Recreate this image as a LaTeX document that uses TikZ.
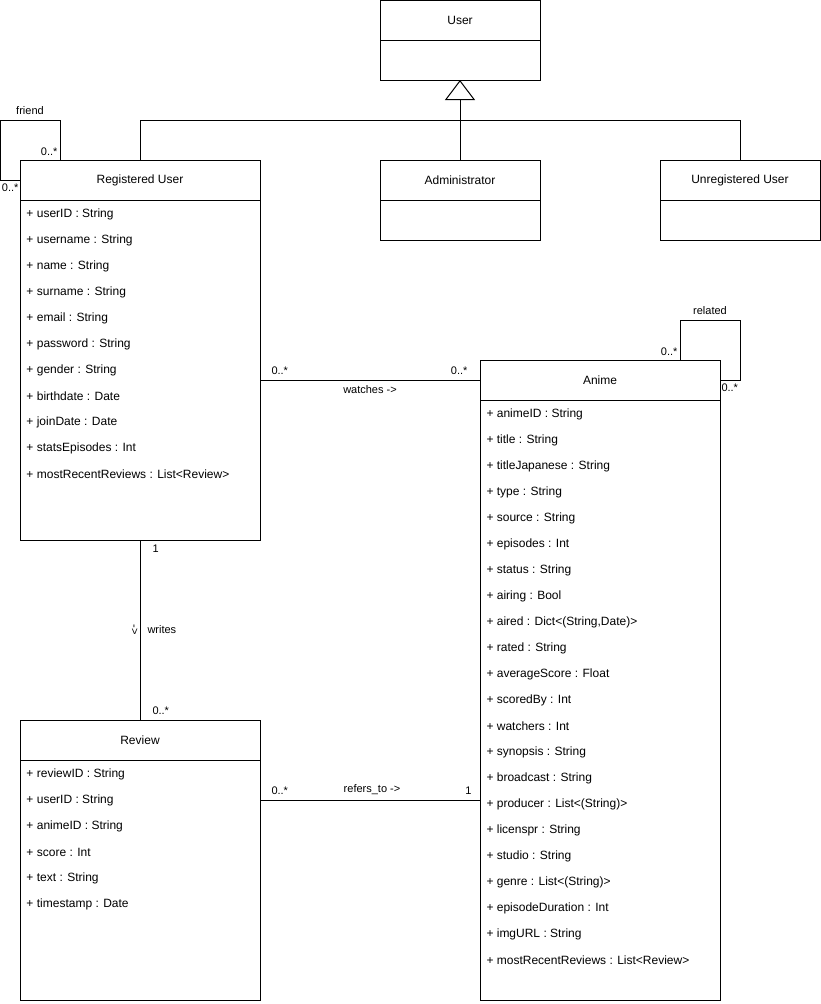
\documentclass[tikz,border=0pt]{standalone}
\usepackage{fontspec}
\setmainfont{Liberation Sans}
\usetikzlibrary{positioning,calc,arrows.meta}

\begin{document}
\begin{tikzpicture}
  [x=1pt,y=-1pt,line width=1pt,
   classhead/.style={draw,minimum width=#1,minimum height=40pt,inner sep=0pt,outer sep=0pt,font=\fontsize{12}{14}\selectfont},
   classhead/.default=160pt,
   classbody/.style={draw,minimum width=#1,inner sep=0pt,outer sep=0pt},
   classbody/.default=160pt,
   attr/.style={anchor=west,inner sep=0pt,font=\fontsize{12}{14}\selectfont},
   lbl/.style={inner sep=0pt,font=\fontsize{11}{13}\selectfont}]

  \useasboundingbox (0,0) rectangle (821,1004);

  % classes
  \node[classhead] (user) at (460,20) {User};
  \node[classbody,minimum height=40pt,below=0pt of user] (userbody) {};
  \node[classhead] (admin) at (460,180) {Administrator};
  \node[classbody,minimum height=40pt,below=0pt of admin] (adminbody) {};
  \node[classhead] (unreg) at (740,180) {Unregistered User};
  \node[classbody,minimum height=40pt,below=0pt of unreg] (unregbody) {};

  \node[classhead=240pt] (reg) at (140,180) {Registered User};
  \node[classbody=240pt,minimum height=340pt,below=0pt of reg] (regbody) {};
  \foreach \a [count=\i] in {userID : String, username : String, name : String,
      surname : String, email : String, password : String, gender : String,
      birthdate : Date, joinDate : Date, statsEpisodes : Int,
      mostRecentReviews : List<Review>}
    \node[attr] (reg-\i) at ($(regbody.north west)+(6,26*\i-12)$) {+ \a};

  \node[classhead=240pt] (anime) at (600,380) {Anime};
  \node[classbody=240pt,minimum height=600pt,below=0pt of anime] (animebody) {};
  \foreach \a [count=\i] in {animeID : String, title : String, titleJapanese : String,
      type : String, source : String, episodes : Int, status : String,
      airing : Bool, {aired : Dict<(String,Date)>}, rated : String,
      averageScore : Float, scoredBy : Int, watchers : Int, synopsis : String,
      broadcast : String, producer : List<(String)>, licenspr : String,
      studio : String, genre : List<(String)>, episodeDuration : Int,
      imgURL : String, mostRecentReviews : List<Review>}
    \node[attr] (anime-\i) at ($(animebody.north west)+(6,26*\i-12)$) {+ \a};

  \node[classhead=240pt] (review) at (140,740) {Review};
  \node[classbody=240pt,minimum height=240pt,below=0pt of review] (reviewbody) {};
  \foreach \a [count=\i] in {reviewID : String, userID : String, animeID : String,
      score : Int, text : String, timestamp : Date}
    \node[attr] (review-\i) at ($(reviewbody.north west)+(6,26*\i-12)$) {+ \a};

  % generalization
  \draw[-{Triangle[open,length=20pt,width=30pt]}] (admin.north) -- (userbody.south);
  \draw (reg.north) -- ++(0,-40) -| (unreg.north);

  % friend
  \draw ([xshift=40pt]reg.north west) -- ++(0,-40)
        -- node[lbl,above=5pt] (friendlbl) {friend} ++(-60,0) |- (reg.west);
  \node[lbl,anchor=south east] (friendm1) at ([xshift=38pt,yshift=4pt]reg.north west) {0..*};
  \node[lbl,anchor=north east] (friendm2) at ([xshift=-1pt,yshift=-3pt]reg.west) {0..*};

  % related
  \draw ([xshift=-40pt]anime.north east) -- ++(0,-40)
        -- node[lbl,above=5pt] (relatedlbl) {related} ++(60,0) |- (anime.east);
  \node[lbl,anchor=south east] (relatedm1) at ([xshift=-42pt,yshift=4pt]anime.north east) {0..*};
  \node[lbl,anchor=north west] (relatedm2) at ([xshift=1pt,yshift=-3pt]anime.east) {0..*};

  % watches
  \draw (regbody.east |- anime.west) -- node[lbl,below=5pt] (watcheslbl) {watches ->}
        node[lbl,pos=0,above right=5pt and 11pt] (watchesm1) {0..*}
        node[lbl,pos=1,above left=5pt and 12pt] (watchesm2) {0..*} (anime.west);

  % writes
  \draw (regbody.south) -- node[lbl,right=7pt] (writeslbl) {writes}
        node[lbl,rotate=-90,anchor=north,inner sep=2pt] (writesdir) {->}
        node[lbl,pos=0,below right=4pt and 12pt] (writesm1) {1}
        node[lbl,pos=1,above right=5pt and 12pt] (writesm2) {0..*} (review.north);

  % refers_to
  \coordinate (refstart) at ($(reviewbody.north east)+(0,40)$);
  \draw (refstart) -- node[lbl,above=5pt,xshift=2pt] (referslbl) {refers\_to ->}
        node[lbl,pos=0,above right=5pt and 11pt] (refersm1) {0..*}
        node[lbl,pos=1,above left=5pt and 8pt] (refersm2) {1} (refstart -| animebody.west);
\end{tikzpicture}
\end{document}
